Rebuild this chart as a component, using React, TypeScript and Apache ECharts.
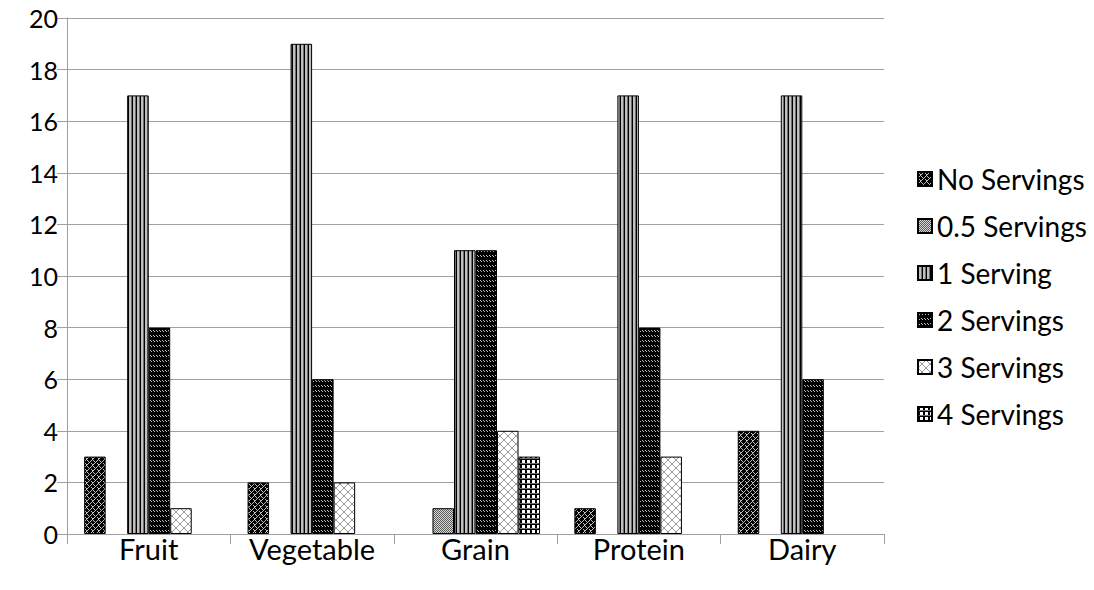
import React, { useEffect, useRef } from "react";
import * as echarts from "echarts";

const categories = ["Fruit", "Vegetable", "Grain", "Protein", "Dairy"];
const seriesNames = ["No Servings", "0.5 Servings", "1 Serving", "2 Servings", "3 Servings", "4 Servings"];
const noServings = [3, 2, 0, 1, 4];
const halfServings = [0, 0, 1, 0, 0];
const oneServing = [17, 19, 11, 17, 17];
const twoServings = [8, 6, 11, 8, 6];
const threeServings = [1, 2, 4, 3, 0];
const fourServings = [0, 0, 3, 0, 0];
const seriesValues = [noServings, halfServings, oneServing, twoServings, threeServings, fourServings];
const yTicks = [0, 2, 4, 6, 8, 10, 12, 14, 16, 18, 20];

const PALETTE: Record<string, string> = {
  K: "#000000",
  L: "#c0c0c0",
  G: "#9a9a9a",
  M: "#6e6e6e",
  D: "#5a5a5a",
  W: "#ffffff",
  E: "#d8d8d8",
};

function tile(rows: string[]) {
  const h = rows.length;
  const w = rows[0].length;
  const c = document.createElement("canvas");
  c.width = w;
  c.height = h;
  const ctx = c.getContext("2d")!;
  for (let y = 0; y < h; y++) {
    for (let x = 0; x < w; x++) {
      ctx.fillStyle = PALETTE[rows[y][x]] || "#ffffff";
      ctx.fillRect(x, y, 1, 1);
    }
  }
  return { image: c.toDataURL(), repeat: "repeat", imageWidth: w, imageHeight: h };
}

function makePatterns() {
  return [
    tile(["KKKKKL", "KLKKLK", "KKLLKK", "KKLKKK", "KLKLKK", "LKKKLK"]),
    tile(["DE", "ED"]),
    tile(["KLLM"]),
    tile(["LKKLKK", "KLKKLK", "KKKKKK", "KKKKKK", "KKKKKK"]),
    tile(["GWWWWWWG", "WGWWWWGW", "WWGWWGWW", "WWWGGWWW", "WWWGGWWW", "WWGWWGWW", "WGWWWWGW", "GWWWWWWG"]),
    tile(["KKWWW", "KKWWW", "KKWWW", "MMMMM", "KKKKK"]),
  ];
}

export default function App() {
  const ref = useRef<HTMLDivElement>(null);
  useEffect(() => {
    if (!ref.current) return;
    const chart = echarts.init(ref.current, null, { renderer: "svg" });
    const patterns = makePatterns();
    const font = "Lato, 'Open Sans', sans-serif";
    chart.setOption({
      animation: false,
      textStyle: { fontFamily: font },
      grid: { left: 67, right: 210, top: 18, bottom: 56, containLabel: false },
      legend: {
        orient: "vertical",
        left: 912,
        top: 159,
        itemWidth: 14,
        itemHeight: 14,
        itemGap: 17,
        icon: "rect",
        data: seriesNames,
        textStyle: { fontSize: 28, color: "#000", fontFamily: font, lineHeight: 30 },
      },
      xAxis: {
        type: "category",
        data: categories,
        axisLine: { lineStyle: { color: "#a0a0a0" } },
        axisTick: { show: true, interval: 0, length: 10, lineStyle: { color: "#a0a0a0" } },
        axisLabel: { interval: 0, hideOverlap: false, fontSize: 29, color: "#000", margin: 2, lineHeight: 24, fontFamily: font },
      },
      yAxis: {
        type: "value",
        min: 0,
        max: 20,
        interval: 2,
        axisLine: { show: true, lineStyle: { color: "#a0a0a0" } },
        axisTick: { show: true, length: 10, lineStyle: { color: "#a0a0a0" } },
        splitLine: { lineStyle: { color: "#a0a0a0" } },
        axisLabel: {
          fontSize: 25,
          color: "#000",
          margin: 9,
          fontFamily: font,
          formatter: (v: number) => (yTicks.includes(v) ? String(v) : ""),
        },
      },
      series: seriesNames.map((name, i) => ({
        name,
        type: "bar",
        data: seriesValues[i].map((v) => (v === 0 ? null : v)),
        barGap: "0%",
        barCategoryGap: "21%",
        itemStyle: { color: patterns[i], borderColor: "#000", borderWidth: 1 },
      })),
    });
    return () => chart.dispose();
  }, []);
  return <div ref={ref} style={{ width: 1094, height: 590, position: "absolute", left: 0, top: 0 }} />;
}
